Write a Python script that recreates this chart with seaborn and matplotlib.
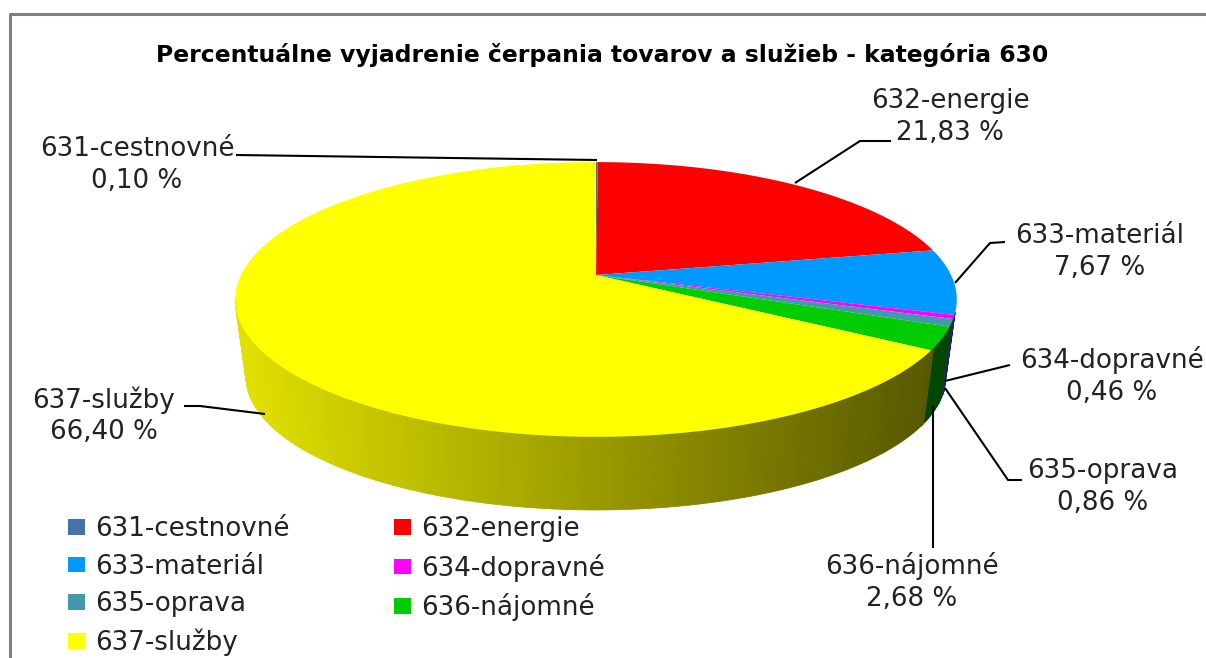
import numpy as np
import matplotlib
matplotlib.use("Agg")
import matplotlib.pyplot as plt
from matplotlib.path import Path
from matplotlib.transforms import Affine2D, Transform
import seaborn as sns

CATEGORIES = ["631-cestnovné", "632-energie", "633-materiál", "634-dopravné",
              "635-oprava", "636-nájomné", "637-služby"]
VALUES = [0.10, 21.83, 7.67, 0.46, 0.86, 2.68, 66.40]
COLORS = ["#4572a7", "#ff0000", "#0099ff", "#ff00ff", "#4198af", "#00cc00", "#ffff00"]
TITLE = "Percentuálne vyjadrenie čerpania tovarov a služieb - kategória 630"

# label centre (px) and leader polyline (px) per category
LABEL_POS = [(137, 165), (950, 117), (1100, 252), (1112, 376), (1103, 487), (912, 582), (104, 416)]
LEADERS = [
    [(236, 155), (597, 160)],
    [(891, 141), (860, 141), (795, 183)],
    [(1005, 242), (990, 243), (955, 283)],
    [(1010, 365), (945, 381)],
    [(1022, 480), (1008, 480), (945, 388)],
    [(933, 548), (933, 405)],
    [(184, 406), (200, 406), (265, 414)],
]

# pie geometry in px
CX, CY = 596, 275
RX, RY, PERSP = 355, 133, 0.178
DEPTH, BOTTOM_SCALE = 78, 0.97

sns.set_theme(style="white")
plt.rcParams["font.family"] = ["DejaVu Sans"]


def project(x, y, scale=1.0, dy=0.0):
    w = 1 + PERSP * y
    return CX + scale * RX * x / w, CY + dy - scale * RY * y / w


class TiltTransform(Transform):
    input_dims = 2
    output_dims = 2

    def transform_non_affine(self, values):
        sx, sy = project(values[:, 0], values[:, 1])
        return np.column_stack([sx, sy])

    def transform_path_non_affine(self, path):
        # flatten the wedge curves first, scaled up so they stay smooth
        poly = path.to_polygons(Affine2D().scale(2000))[0] / 2000
        return Path(self.transform_non_affine(poly))


fig = plt.figure(figsize=(12.06, 6.58), dpi=100)
ax = fig.add_axes([0, 0, 1, 1])

# side wall, thin strips so the shading can run left to right
shades = np.array(sns.blend_palette(["#e0e0e0", "#585858"], 256))
edges = 90 - np.cumsum([0] + VALUES) * 3.6
for i, color in enumerate(COLORS):
    lo = max(edges[i + 1], -170)
    hi = min(edges[i], -16)
    if lo >= hi:
        continue
    angles = np.radians(np.arange(lo, hi + 1.0, 1.0))
    angles = np.append(angles, np.radians(hi))
    base = np.array(matplotlib.colors.to_rgb(color))
    for a0, a1 in zip(angles[:-1], angles[1:]):
        if a0 == a1:
            continue
        x0, y0 = project(np.cos(a0), np.sin(a0))
        x1, y1 = project(np.cos(a1), np.sin(a1))
        x2, y2 = project(np.cos(a1), np.sin(a1), BOTTOM_SCALE, DEPTH)
        x3, y3 = project(np.cos(a0), np.sin(a0), BOTTOM_SCALE, DEPTH)
        frac = np.clip(((x0 + x1) / 2 - 240) / (930 - 240), 0, 1)
        c = base * shades[int(frac * 255)]
        ax.fill([x0, x1, x2, x3], [y0, y1, y2, y3], color=c, linewidth=0.6, zorder=1)

# top face
wedges, _ = ax.pie(VALUES, colors=COLORS, startangle=90, counterclock=False,
                   radius=1, wedgeprops={"linewidth": 0})
tilt = TiltTransform()
for w in wedges:
    w.set_transform(tilt + ax.transData)
    w.set_zorder(2)

ax.set_aspect("auto")
ax.set_xlim(0, 1206)
ax.set_ylim(658, 0)
ax.axis("off")

for name, val, pos, line in zip(CATEGORIES, VALUES, LABEL_POS, LEADERS):
    xs, ys = zip(*line)
    ax.plot(xs, ys, color="black", linewidth=1.5, zorder=3, solid_capstyle="butt")
    label = name + "\n" + f"{val:.2f}".replace(".", ",") + " %"
    ax.text(pos[0], pos[1], label, ha="center", va="center", fontsize=18.8,
            color="#222222", linespacing=1.26, zorder=4)

ax.text(602, 55, TITLE, ha="center", va="center", fontsize=16.9, fontweight="bold", color="black")

# outer frame runs off the right and bottom of the image
ax.plot([10, 10, 1206], [658, 14, 14], color="#808080", linewidth=2.2, zorder=5, clip_on=False)

order = [0, 2, 4, 6, 1, 3, 5]
ax.legend([wedges[i] for i in order], [CATEGORIES[i] for i in order], ncols=2,
          loc="lower left", bbox_to_anchor=(68 / 1206, 0.003), borderpad=0, borderaxespad=0,
          frameon=False, fontsize=18.8, labelcolor="#222222", handlelength=0.66, handleheight=0.54,
          handletextpad=0.38, columnspacing=4.0, labelspacing=0.44)

fig.savefig("out.png", dpi=100)
plt.close(fig)
